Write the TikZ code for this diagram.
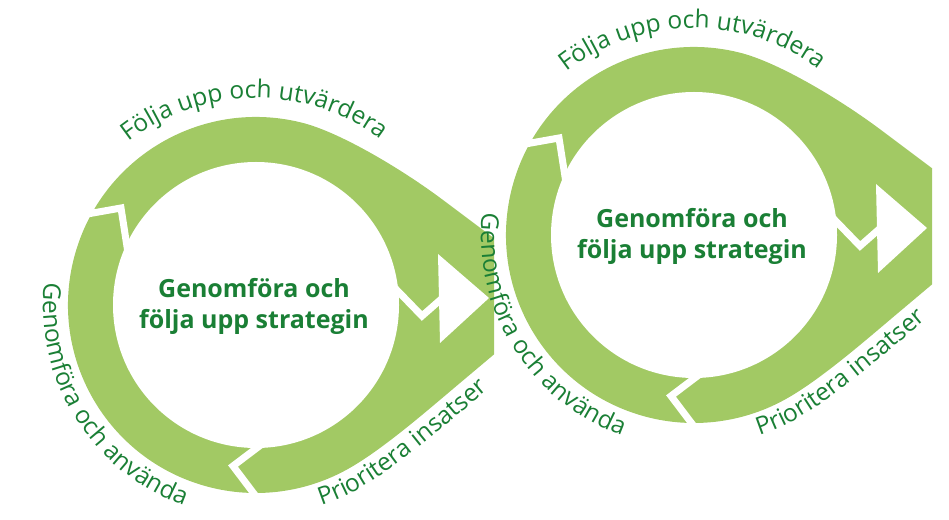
\documentclass[tikz,border=0pt]{standalone}
\usepackage{fontspec}
\setmainfont{Open Sans}
\usetikzlibrary{decorations.text}
\definecolor{ringgreen}{HTML}{A2C964}
\definecolor{textgreen}{HTML}{1A7F35}
\newcommand{\lblfont}{\fontsize{24.5}{24.5}\selectfont}
\newcommand{\ctrfont}{\fontsize{25}{31}\selectfont\bfseries}
\tikzset{
  chev/.style={draw=white, line width=7pt, line join=miter},
  ringfill/.style={fill=ringgreen},
  lbl/.style={decorate, decoration={text along path, text color=textgreen, text={|\lblfont|#1}}},
  ctrtext/.style={font=\ctrfont, text=textgreen, align=center, inner sep=0pt}
}
\newcommand{\cycleshape}{%
  \path[ringfill] (311,12) -- (187,105) .. controls (147,135) and (87,171) .. (75:188)
     arc[start angle=75, end angle=300, radius=188]
     .. controls (128.6,-143) and (173.4,-103.7) .. (204,-78) -- cycle;
  \fill[white] (0,0) circle[radius=143];
  \fill[white] (182,51) -- (184,-38) -- (233,7) -- cycle;
  \draw[chev] (134,22) -- (166,-11) -- (199,18);
  \draw[chev] (14,-133) -- (-23,-161) -- (5,-198);
  \draw[chev] (-180,89) -- (-135,97) -- (-128,52);
}
\newcommand{\cyclelabels}[1]{%
  \path[lbl={Följa upp och utvärdera}] (128:207) arc[start angle=128, end angle=10, radius=207];
  \path[lbl={Genomföra och använda}] (174:213) arc[start angle=174, end angle=285, radius=213];
  \path[lbl={Prioritera insatser}] (-72:211) arc[start angle=-72, end angle=-60, radius=211]
     .. controls (141.9,-161.7) and (186.6,-122.6) .. (218.8,-95.6) -- (300,-28);
  \node[ctrtext] (#1) at (-2,-1) {Genomföra och\\följa upp strategin};
}
\begin{document}
\begin{tikzpicture}[x=1pt,y=1pt]
\useasboundingbox (0,0) rectangle (949,519);
\begin{scope}[shift={(256,214)}]
  \begin{scope}
    \clip (-260,-240) rectangle (238,240);
    \cycleshape
  \end{scope}
\end{scope}
\begin{scope}[shift={(694,284)}]
  \begin{scope}
    \clip (-260,-240) rectangle (238,240);
    \cycleshape
  \end{scope}
\end{scope}
\begin{scope}[shift={(256,214)}]
  \cyclelabels{centerA}
\end{scope}
\begin{scope}[shift={(694,284)}]
  \cyclelabels{centerB}
\end{scope}
\end{tikzpicture}
\end{document}
